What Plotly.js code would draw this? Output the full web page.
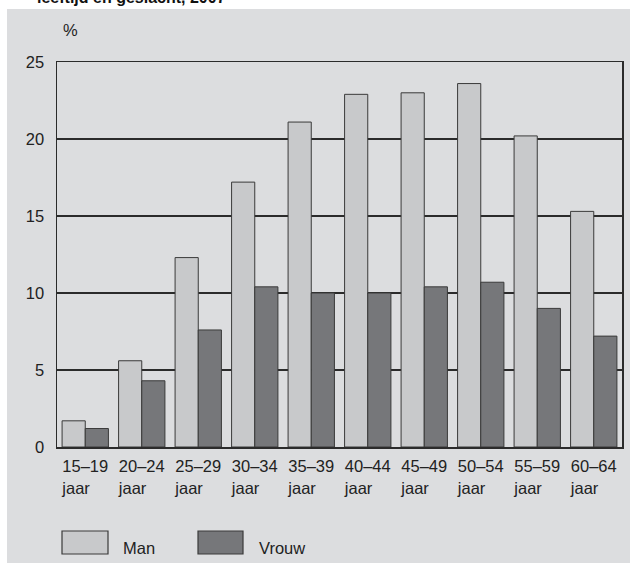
<!DOCTYPE html>
<html>
<head>
<meta charset="utf-8">
<script src="https://cdn.plot.ly/plotly-3.0.1.min.js"></script>
<style>
html,body{margin:0;padding:0;background:#ffffff;}
#chart{width:630px;height:563px;}
</style>
</head>
<body>
<div id="chart"></div>
<script>
const categories = ["15–19", "20–24", "25–29", "30–34", "35–39", "40–44", "45–49", "50–54", "55–59", "60–64"];
const tickLabels = ["15–19<br>jaar\u00a0\u00a0\u00a0\u00a0", "20–24<br>jaar\u00a0\u00a0\u00a0\u00a0", "25–29<br>jaar\u00a0\u00a0\u00a0\u00a0", "30–34<br>jaar\u00a0\u00a0\u00a0\u00a0", "35–39<br>jaar\u00a0\u00a0\u00a0\u00a0", "40–44<br>jaar\u00a0\u00a0\u00a0\u00a0", "45–49<br>jaar\u00a0\u00a0\u00a0\u00a0", "50–54<br>jaar\u00a0\u00a0\u00a0\u00a0", "55–59<br>jaar\u00a0\u00a0\u00a0\u00a0", "60–64<br>jaar\u00a0\u00a0\u00a0\u00a0"];
const man = [1.7, 5.6, 12.3, 17.2, 21.1, 22.9, 23.0, 23.6, 20.2, 15.3];
const vrouw = [1.2, 4.3, 7.6, 10.4, 10.0, 10.0, 10.4, 10.7, 9.0, 7.2];
const seriesNames = ["Man", "Vrouw"];
const yTicks = [0, 5, 10, 15, 20, 25];

const FONT = "Liberation Sans, Arial, Helvetica, sans-serif";
const cMan = "#c8c9cb";
const cVrouw = "#76777a";
const cLine = "#2b2b2b";
const cBg = "#dcdddf";

const traces = [
  {type: "bar", name: seriesNames[0], x: categories, y: man,
   marker: {color: cMan, line: {color: "#3a3a3a", width: 1}}, showlegend: false, hoverinfo: "y"},
  {type: "bar", name: seriesNames[1], x: categories, y: vrouw,
   marker: {color: cVrouw, line: {color: "#3a3a3a", width: 1}}, showlegend: false, hoverinfo: "y"}
];

// plot area px: left 57, right 622, top 62, bottom 447
const L = 57, R = 622, T = 62, B = 447, W = R - L, H = B - T;
const px = v => (v - L) / W;
const py = v => (B - v) / H;

const layout = {
  width: 630, height: 563,
  margin: {l: L, r: 630 - R, t: T, b: 563 - B, pad: 0},
  paper_bgcolor: "#ffffff",
  plot_bgcolor: "#ffffff",
  font: {family: FONT, size: 16.5, color: "#222222"},
  barmode: "group",
  bargap: 0.18,
  bargroupgap: 0,
  showlegend: false,
  xaxis: {
    type: "category",
    tickvals: categories, ticktext: tickLabels,
    showline: true, mirror: true, linecolor: cLine, linewidth: 1.5,
    ticks: "", showgrid: false, zeroline: false,
    tickfont: {family: FONT, size: 16.5, color: "#222222"},
    ticklabelstandoff: 4,
    fixedrange: true
  },
  yaxis: {
    range: [0, 25], tickvals: yTicks, ticktext: yTicks.map(String),
    showline: true, mirror: true, linecolor: cLine, linewidth: 1.5,
    showgrid: true, gridcolor: cLine, gridwidth: 1.3,
    zeroline: false, ticks: "",
    tickfont: {family: FONT, size: 16.5, color: "#222222"},
    ticklabelstandoff: 8,
    fixedrange: true
  },
  shapes: [
    {type: "rect", xref: "paper", yref: "paper", layer: "below",
     x0: px(7), x1: px(632), y0: py(564), y1: py(9),
     fillcolor: cBg, line: {width: 0}},
    {type: "rect", xref: "paper", yref: "paper",
     x0: px(62), x1: px(108), y0: py(554), y1: py(531),
     fillcolor: cMan, line: {color: "#3a3a3a", width: 1.2}},
    {type: "rect", xref: "paper", yref: "paper",
     x0: px(198), x1: px(243), y0: py(554), y1: py(531),
     fillcolor: cVrouw, line: {color: "#3a3a3a", width: 1.2}}
  ],
  annotations: [
    {text: "<b>leeftijd en geslacht, 2007</b>", xref: "paper", yref: "paper",
     x: px(35), y: py(8), xanchor: "left", yanchor: "bottom", showarrow: false,
     font: {family: FONT, size: 16, color: "#111111"}},
    {text: "%", xref: "paper", yref: "paper", x: px(61), y: py(30),
     xanchor: "left", yanchor: "middle", showarrow: false,
     font: {family: FONT, size: 16.5, color: "#222222"}},
    {text: seriesNames[0], xref: "paper", yref: "paper", x: px(121), y: py(548),
     xanchor: "left", yanchor: "middle", showarrow: false,
     font: {family: FONT, size: 16.5, color: "#222222"}},
    {text: seriesNames[1], xref: "paper", yref: "paper", x: px(257), y: py(548),
     xanchor: "left", yanchor: "middle", showarrow: false,
     font: {family: FONT, size: 16.5, color: "#222222"}}
  ]
};

Plotly.newPlot("chart", traces, layout, {displayModeBar: false, staticPlot: true});
</script>
</body>
</html>
